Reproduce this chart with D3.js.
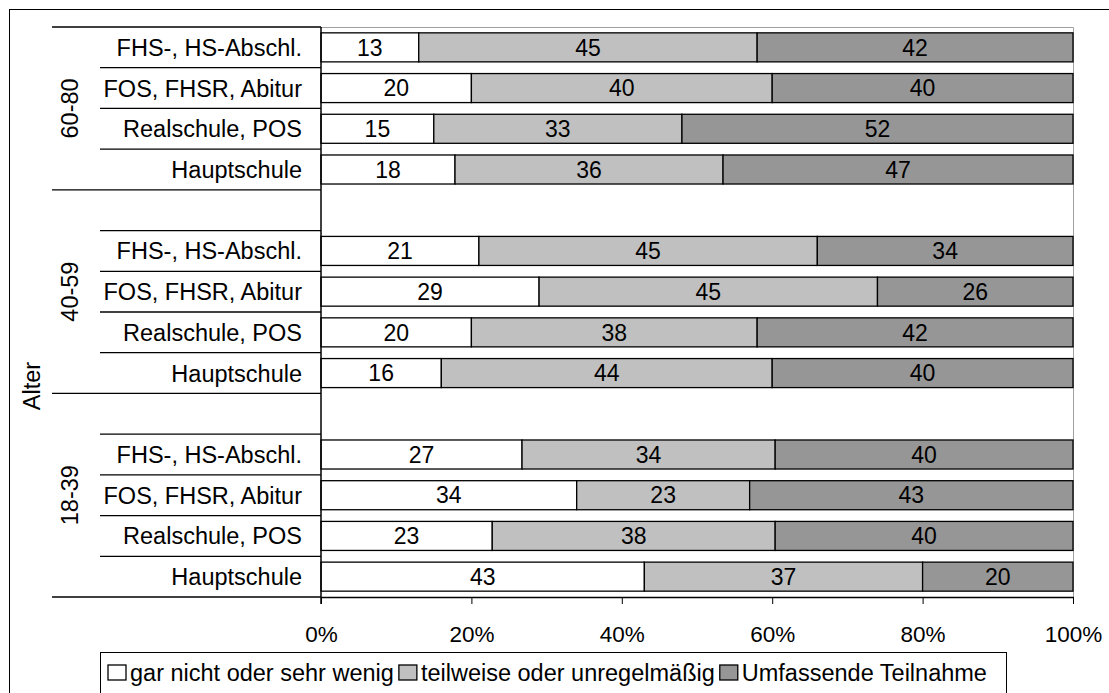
<!DOCTYPE html>
<html>
<head>
<meta charset="utf-8">
<script src="https://cdn.jsdelivr.net/npm/d3@7"></script>
<style>
  body { margin: 0; background: #fff; }
  svg { font-family: "Liberation Sans", Arial, sans-serif; }
  text { fill: #000; }
</style>
</head>
<body>
<svg id="chart" width="1109" height="693"></svg>
<script>
// Data (top to bottom, as displayed)
const groups = ["60-80", "40-59", "18-39"];
const schools = ["FHS-, HS-Abschl.", "FOS, FHSR, Abitur", "Realschule, POS", "Hauptschule"];
const seriesNames = ["gar nicht oder sehr wenig", "teilweise oder unregelmäßig", "Umfassende Teilnahme"];
const garNicht  = [13, 20, 15, 18,  21, 29, 20, 16,  27, 34, 23, 43];
const teilweise = [45, 40, 33, 36,  45, 45, 38, 44,  34, 23, 38, 37];
const umfassend = [42, 40, 52, 47,  34, 26, 42, 40,  40, 43, 40, 20];
const xTicks = [0, 0.2, 0.4, 0.6, 0.8, 1];

const colors = ["#ffffff", "#c0c0c0", "#969696"];

const svg = d3.select("#chart");
const width = +svg.attr("width");
const height = +svg.attr("height");
const plot = { left: 321, right: 1073, top: 27, bottom: 597 };

// rows incl. empty spacer rows between groups
const rows = [];
groups.forEach((g, gi) => {
  if (gi > 0) rows.push({ key: "gap" + gi, group: g, spacer: true });
  schools.forEach((s, si) => {
    const i = gi * schools.length + si;
    rows.push({ key: g + "|" + s, group: g, school: s, values: [garNicht[i], teilweise[i], umfassend[i]] });
  });
});
const dataRows = rows.filter(r => !r.spacer);

const x = d3.scaleLinear().domain([0, 1]).range([plot.left, plot.right]);
const y = d3.scaleBand()
  .domain(rows.map(r => r.key))
  .range([plot.top, plot.bottom])
  .paddingInner(0.287)
  .paddingOuter(0.1435);
const step = y.step();
const slotTop = key => y(key) - y.paddingInner() * step / 2;

const stack = d3.stack()
  .keys([0, 1, 2])
  .value((d, k) => d.values[k])
  .offset(d3.stackOffsetExpand);
const series = stack(dataRows);

// outer frame
svg.append("rect")
  .attr("x", 9.5).attr("y", 9.5)
  .attr("width", width + 10).attr("height", height + 10)
  .attr("fill", "none").attr("stroke", "#000");

// plot area border (grey, top + right)
svg.append("path")
  .attr("d", `M${plot.left},${plot.top + 0.5}H${plot.right + 0.5}V${plot.bottom}`)
  .attr("fill", "none").attr("stroke", "#a0a0a0");

// bars
const layer = svg.append("g").selectAll("g")
  .data(series)
  .join("g")
  .attr("fill", (d, i) => colors[i]);

layer.selectAll("rect")
  .data(d => d)
  .join("rect")
  .attr("x", d => x(d[0]))
  .attr("y", d => y(d.data.key))
  .attr("width", d => x(d[1]) - x(d[0]))
  .attr("height", y.bandwidth())
  .attr("stroke", "#000")
  .attr("stroke-width", 1.3);

// value labels
layer.selectAll("text")
  .data((d, i) => d.map(s => ({ s, i })))
  .join("text")
  .attr("x", d => (x(d.s[0]) + x(d.s[1])) / 2)
  .attr("y", d => y(d.s.data.key) + y.bandwidth() / 2)
  .attr("dy", "0.36em")
  .attr("text-anchor", "middle")
  .attr("font-size", 23)
  .text(d => d.s.data.values[d.i]);

// x axis
const xAxis = d3.axisBottom(x)
  .tickValues(xTicks)
  .tickFormat(d3.format(".0%"))
  .tickSize(7)
  .tickSizeOuter(0);
svg.append("g")
  .attr("transform", `translate(0,${plot.bottom})`)
  .call(xAxis)
  .call(g => g.select(".domain").attr("stroke", "#000").attr("stroke-width", 1.5))
  .call(g => g.selectAll(".tick line").attr("stroke", "#000"))
  .call(g => g.selectAll(".tick text")
    .attr("y", 0).attr("dy", 0)
    .attr("transform", "translate(0,45)")
    .attr("font-size", 22.5)
    .attr("font-family", "Liberation Sans, Arial, sans-serif")
    .attr("fill", "#000"));

// y axis line
svg.append("line")
  .attr("x1", plot.left).attr("x2", plot.left)
  .attr("y1", plot.top).attr("y2", plot.bottom + 7)
  .attr("stroke", "#000").attr("stroke-width", 1.5);

// category separator lines
const groupStarts = new Set(rows.filter((r, i) => i === 0 || r.group !== rows[i - 1].group).map(r => r.key));
const lineYs = rows.map(r => ({ y: slotTop(r.key), long: groupStarts.has(r.key) }));
lineYs.push({ y: plot.bottom, long: true });
svg.append("g").selectAll("line")
  .data(lineYs)
  .join("line")
  .attr("x1", d => d.long ? 52 : 100)
  .attr("x2", plot.left)
  .attr("y1", d => d.y)
  .attr("y2", d => d.y)
  .attr("stroke", "#000")
  .attr("stroke-width", 1.3);

// school labels
svg.append("g").selectAll("text")
  .data(dataRows)
  .join("text")
  .attr("x", 302)
  .attr("y", d => y(d.key) + y.bandwidth() / 2)
  .attr("dy", "0.36em")
  .attr("text-anchor", "end")
  .attr("font-size", 23.5)
  .text(d => d.school);

// group labels
svg.append("g").selectAll("text")
  .data(groups)
  .join("text")
  .attr("transform", g => {
    const keys = rows.filter(r => r.group === g).map(r => r.key);
    const y0 = slotTop(keys[0]);
    const y1 = slotTop(keys[keys.length - 1]) + step;
    return `translate(70,${(y0 + y1) / 2}) rotate(-90)`;
  })
  .attr("dy", "0.36em")
  .attr("text-anchor", "middle")
  .attr("font-size", 23.5)
  .text(d => d);

svg.append("text")
  .attr("transform", "translate(32,386) rotate(-90)")
  .attr("dy", "0.36em")
  .attr("text-anchor", "middle")
  .attr("font-size", 23.5)
  .text("Alter");

// legend
const legend = svg.append("g").attr("id", "legend");
legend.append("rect")
  .attr("x", 100.5).attr("y", 652.5)
  .attr("width", 906).attr("height", 50)
  .attr("fill", "#fff").attr("stroke", "#000");

let lx = 108;
seriesNames.forEach((name, i) => {
  legend.append("rect")
    .attr("x", lx).attr("y", 665)
    .attr("width", 18).attr("height", 15)
    .attr("fill", colors[i]).attr("stroke", "#000").attr("stroke-width", 1.3);
  const t = legend.append("text")
    .attr("x", lx + 22).attr("y", 681)
    .attr("font-size", 23.5)
    .text(name);
  lx += 22 + t.node().getComputedTextLength() + 5;
});
</script>
</body>
</html>
